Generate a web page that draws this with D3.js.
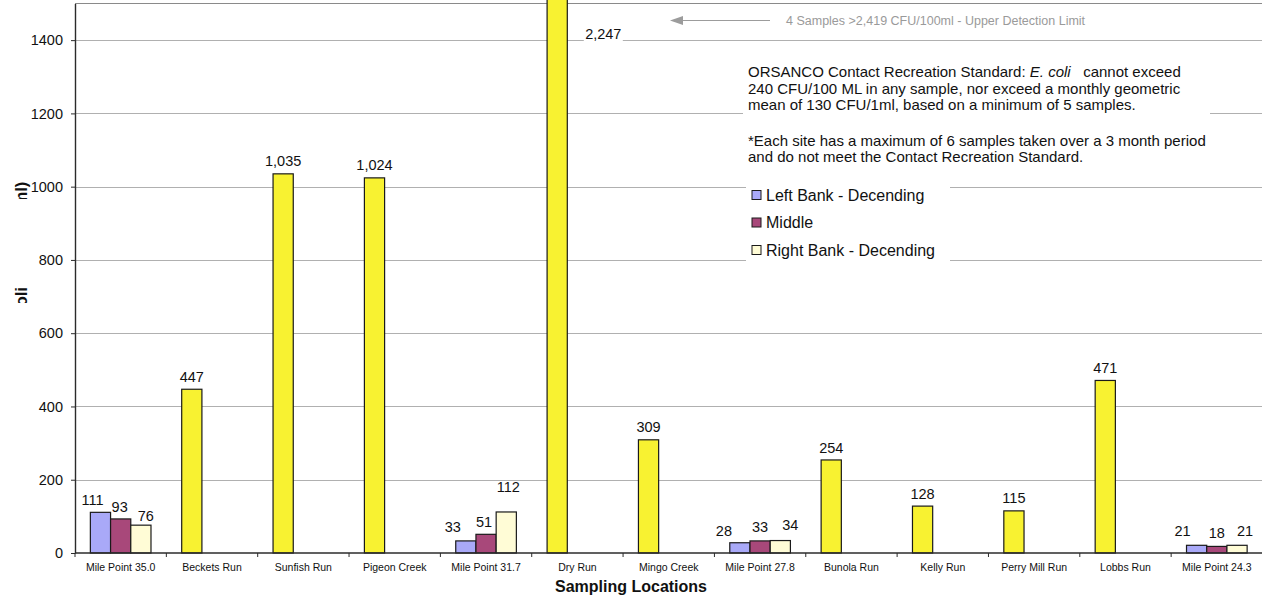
<!DOCTYPE html>
<html>
<head>
<meta charset="utf-8">
<script src="https://cdn.jsdelivr.net/npm/d3@7"></script>
<style>
  html, body { margin: 0; padding: 0; background: #fff; }
  svg { display: block; font-family: "Liberation Sans", Arial, Helvetica, sans-serif; }
  .pre { white-space: pre; }
</style>
</head>
<body>
<svg id="chart" width="1262" height="600"></svg>
<script>
// ---- data -------------------------------------------------------------
const categories = [
  "Mile Point 35.0", "Beckets Run", "Sunfish Run", "Pigeon Creek",
  "Mile Point 31.7", "Dry Run", "Mingo Creek", "Mile Point 27.8",
  "Bunola Run", "Kelly Run", "Perry Mill Run", "Lobbs Run", "Mile Point 24.3"
];
const seriesNames = ["Left Bank - Decending", "Middle", "Right Bank - Decending"];
// tributary sites carry a single value, stored in the first series
const leftBank  = [111, 447, 1035, 1024, 33, 2247, 309, 28, 254, 128, 115, 471, 21];
const middle    = [93, null, null, null, 51, null, null, 33, null, null, null, null, 18];
const rightBank = [76, null, null, null, 112, null, null, 34, null, null, null, null, 21];
const tributaries = [
  "Beckets Run", "Sunfish Run", "Pigeon Creek", "Dry Run", "Mingo Creek",
  "Bunola Run", "Kelly Run", "Perry Mill Run", "Lobbs Run"
];
const yTickValues = [0, 200, 400, 600, 800, 1000, 1200, 1400];
const yMax = 1500;
const limitValue = 1400;   // values above the axis top are labelled beside the bar

const xTitle = "Sampling Locations";
const yTitle = "E. coli (CFU/100 ml)";
const limitNote = "4 Samples >2,419 CFU/100ml - Upper Detection Limit";

// ---- layout & style ----------------------------------------------------
const W = 1262, H = 600;
const plot = { left: 75, right: 1262.5, top: 3.5, bottom: 553 };
const seriesColors = ["#a9a9f8", "#a8487a", "#fffcd6"];
const tributaryColor = "#f8f231";
const gridColor = "#b0b0b0";
const axisColor = "#2b2b2b";

// hand-placed label offsets [dx, dy] for the three-bar river sites
const labelNudge = {
  "Mile Point 35.0": [[-8, 0], [-1, 0], [5, 3]],
  "Mile Point 31.7": [[-13, -1], [-2, 0], [2, -13]],
  "Mile Point 27.8": [[-16, 1], [0, -1], [10, -3]],
  "Mile Point 24.3": [[-14, -2], [0, -1], [8, -2]]
};

const svg = d3.select("#chart");

const x = d3.scaleBand().domain(categories).range([plot.left, plot.right]).padding(0);
const xs = d3.scaleBand().domain(seriesNames).range([0, x.bandwidth()])
  .paddingInner(0).paddingOuter(0.76);
const y = d3.scaleLinear().domain([0, yMax]).range([plot.bottom, plot.top]);

const rows = categories.map((c, i) => ({
  category: c,
  values: [leftBank[i], middle[i], rightBank[i]]
}));

// ---- gridlines & frame -------------------------------------------------
svg.append("g").selectAll("line")
  .data(yTickValues.filter(v => v > 0))
  .join("line")
  .attr("x1", plot.left).attr("x2", W)
  .attr("y1", d => Math.round(y(d)) + 0.5).attr("y2", d => Math.round(y(d)) + 0.5)
  .attr("stroke", gridColor).attr("stroke-width", 1);

svg.append("line")
  .attr("x1", plot.left).attr("x2", W)
  .attr("y1", y(yMax)).attr("y2", y(yMax))
  .attr("stroke", "#8a8a8a").attr("stroke-width", 1.2);

// ---- bars --------------------------------------------------------------
const bars = [];
rows.forEach(r => {
  r.values.forEach((v, si) => {
    if (v == null) return;
    bars.push({ category: r.category, si, value: v });
  });
});

svg.append("g").selectAll("rect")
  .data(bars)
  .join("rect")
  .attr("x", d => x(d.category) + xs(seriesNames[d.si]))
  .attr("width", xs.bandwidth())
  .attr("y", d => y(d.value))
  .attr("height", d => y(0) - y(d.value))
  .attr("fill", d => tributaries.includes(d.category) ? tributaryColor : seriesColors[d.si])
  .attr("stroke", "#1a1a1a")
  .attr("stroke-width", 1.2);

// ---- axes --------------------------------------------------------------
const yAxis = svg.append("g")
  .attr("transform", `translate(${plot.left},0)`)
  .call(d3.axisLeft(y).tickValues(yTickValues).tickFormat(d3.format("d"))
    .tickSize(4).tickSizeOuter(0).tickPadding(8));
yAxis.select(".domain").attr("stroke", axisColor).attr("stroke-width", 1.4);
yAxis.selectAll(".tick line").attr("stroke", axisColor);
yAxis.selectAll(".tick text")
  .attr("font-family", "Liberation Sans, Arial, sans-serif")
  .attr("font-size", 14.5).attr("fill", "#111");

// category boundaries tick marks
const xAxis = svg.append("g");
xAxis.append("line")
  .attr("x1", plot.left).attr("x2", W)
  .attr("y1", y(0)).attr("y2", y(0))
  .attr("stroke", axisColor).attr("stroke-width", 1.6);
xAxis.selectAll("line.tick")
  .data(categories)
  .join("line")
  .attr("class", "tick")
  .attr("x1", d => x(d)).attr("x2", d => x(d))
  .attr("y1", y(0)).attr("y2", y(0) + 4)
  .attr("stroke", axisColor).attr("stroke-width", 1);
xAxis.selectAll("text")
  .data(categories)
  .join("text")
  .attr("x", d => x(d) + x.bandwidth() / 2)
  .attr("y", y(0) + 18)
  .attr("text-anchor", "middle")
  .attr("font-size", 10.5)
  .attr("fill", "#111")
  .text(d => d);

// ---- value labels ------------------------------------------------------
const fmt = d3.format(",");
const labels = svg.append("g");
bars.forEach(d => {
  const bx = x(d.category) + xs(seriesNames[d.si]);
  const cx = bx + xs.bandwidth() / 2;
  if (d.value > limitValue) {
    const lx = bx + xs.bandwidth() + 36;
    const ly = y(limitValue) - 6.5;
    labels.append("rect")
      .attr("x", lx - 19.5).attr("y", ly - 7.5)
      .attr("width", 39).attr("height", 15)
      .attr("fill", "#fff");
    labels.append("text")
      .attr("x", lx).attr("y", ly).attr("dy", "0.35em")
      .attr("text-anchor", "middle").attr("font-size", 14.5).attr("fill", "#111")
      .text(fmt(d.value));
    return;
  }
  const n = (labelNudge[d.category] || [])[d.si] || [0, 0];
  labels.append("text")
    .attr("x", cx + n[0])
    .attr("y", y(d.value) - 12.5 + n[1])
    .attr("dy", "0.35em")
    .attr("text-anchor", "middle")
    .attr("font-size", 14.5)
    .attr("fill", "#111")
    .text(fmt(d.value));
});

// ---- axis titles -------------------------------------------------------
svg.append("text")
  .attr("x", 631).attr("y", 592)
  .attr("text-anchor", "middle")
  .attr("font-size", 16).attr("font-weight", "bold").attr("fill", "#111")
  .text(xTitle);

// the y title sits at the cut left edge of the panel; only parts of it show
const clip = svg.append("clipPath").attr("id", "ytitle-clip");
clip.append("rect").attr("x", 0).attr("y", 181).attr("width", 40).attr("height", 18);
clip.append("rect").attr("x", 0).attr("y", 286).attr("width", 40).attr("height", 17);
svg.append("g").attr("clip-path", "url(#ytitle-clip)")
  .append("text")
  .attr("class", "pre")
  .attr("transform", "translate(26.5,335.7) rotate(-90)")
  .attr("font-size", 16.5).attr("font-weight", "bold").attr("fill", "#111")
  .text(yTitle);

// ---- upper detection limit note ---------------------------------------
svg.append("line")
  .attr("x1", 681).attr("x2", 770).attr("y1", 20.5).attr("y2", 20.5)
  .attr("stroke", "#9c9c9c").attr("stroke-width", 1);
svg.append("path")
  .attr("d", "M670,20.5 L683,16 L683,25 Z")
  .attr("fill", "#9c9c9c");
svg.append("text")
  .attr("x", 786).attr("y", 20.5).attr("dy", "0.35em")
  .attr("font-size", 12.5).attr("fill", "#9a9a9a")
  .text(limitNote);

// ---- standard note box -------------------------------------------------
svg.append("rect")
  .attr("x", 743).attr("y", 52).attr("width", 467).attr("height", 120)
  .attr("fill", "#fff");
const note = svg.append("text")
  .attr("class", "pre")
  .attr("font-size", 15).attr("fill", "#111");
const line1 = note.append("tspan").attr("x", 748).attr("y", 77);
line1.append("tspan").text("ORSANCO Contact Recreation Standard: ");
line1.append("tspan").attr("font-style", "italic").text("E. coli");
line1.append("tspan").text("   cannot exceed");
note.append("tspan").attr("x", 748).attr("y", 93.5)
  .text("240 CFU/100 ML in any sample, nor exceed a monthly geometric");
note.append("tspan").attr("x", 748).attr("y", 110)
  .text("mean of 130 CFU/1ml, based on a minimum of 5 samples.");
note.append("tspan").attr("x", 748).attr("y", 145.5)
  .text("*Each site has a maximum of 6 samples taken over a 3 month period");
note.append("tspan").attr("x", 748).attr("y", 162)
  .text("and do not meet the Contact Recreation Standard.");

// ---- legend ------------------------------------------------------------
const legend = svg.append("g");
legend.append("rect")
  .attr("x", 746).attr("y", 180).attr("width", 204).attr("height", 88)
  .attr("fill", "#fff");
const items = legend.selectAll("g.item")
  .data(seriesNames)
  .join("g")
  .attr("class", "item")
  .attr("transform", (d, i) => `translate(752,${195 + i * 27.5})`);
items.append("rect")
  .attr("x", 0).attr("y", -4.5).attr("width", 9).attr("height", 9)
  .attr("fill", (d, i) => seriesColors[i])
  .attr("stroke", "#1a1a1a").attr("stroke-width", 1);
items.append("text")
  .attr("x", 14).attr("y", 0).attr("dy", "0.35em")
  .attr("font-size", 16).attr("fill", "#111")
  .text(d => d);
</script>
</body>
</html>
